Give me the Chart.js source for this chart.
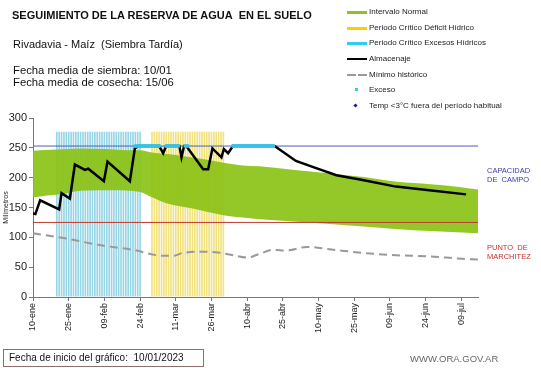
<!DOCTYPE html>
<html>
<head>
<meta charset="utf-8">
<script src="https://cdn.jsdelivr.net/npm/chart.js@4"></script>
<style>
  body { margin: 0; background: #fff; font-family: "Liberation Sans", Arial, sans-serif; }
  #wrap { position: relative; width: 541px; height: 368px; overflow: hidden; }
  canvas { position: absolute; left: 0; top: 0; }
  .t { position: absolute; white-space: nowrap; color: #111; }
  .leg { position: absolute; left: 347px; font-size: 8px; color: #222; }
  .leg div { position: relative; height: 15.7px; line-height: 8px; padding-left: 22px; }
  .sw { position: absolute; left: 0; }
</style>
</head>
<body>
<div id="wrap">
  <canvas id="grafico" width="541" height="368"></canvas>

  <div class="t" style="left:12px;top:9px;font-size:11px;font-weight:bold;">SEGUIMIENTO DE LA RESERVA DE AGUA&nbsp; EN EL SUELO</div>
  <div class="t" style="left:13px;top:38px;font-size:11px;">Rivadavia - Maíz&nbsp; (Siembra Tardía)</div>
  <div class="t" style="left:13px;top:64px;font-size:11.3px;line-height:12px;">Fecha media de siembra: 10/01<br>Fecha media de cosecha: 15/06</div>

  <div class="leg" style="top:8px;">
    <div><span class="sw" style="top:3px;width:20px;height:3px;background:#8dc21f;"></span>Intervalo Normal</div>
    <div><span class="sw" style="top:3px;width:20px;height:3px;background:#ffcc00;"></span>Periodo Crítico Déficit Hídrico</div>
    <div><span class="sw" style="top:3px;width:20px;height:3px;background:#33ccee;"></span>Periodo Crítico Excesos Hídricos</div>
    <div><span class="sw" style="top:3px;width:20px;height:2px;background:#000;"></span>Almacenaje</div>
    <div><span class="sw" style="top:3px;width:9px;height:2px;background:#999;"></span><span class="sw" style="left:11px;top:3px;width:9px;height:2px;background:#999;"></span>Mínimo histórico</div>
    <div><span class="sw" style="left:8px;top:2px;width:3px;height:3px;background:#33ccee;"></span>Exceso</div>
    <div><span class="sw" style="left:7px;top:2px;width:3px;height:3px;background:#1a1a8c;transform:rotate(45deg);"></span>Temp &lt;3°C fuera del período habitual</div>
  </div>

  <div class="t" style="left:487px;top:166px;font-size:7.5px;line-height:9px;color:#3b3bb0;">CAPACIDAD<br>DE&nbsp; CAMPO</div>
  <div class="t" style="left:487px;top:243px;font-size:7.5px;line-height:9px;color:#c83232;">PUNTO&nbsp; DE<br>MARCHITEZ</div>

  <div class="t" style="left:3px;top:349px;border:1px solid #8b7070;font-size:10px;line-height:16px;padding-left:5px;box-sizing:border-box;width:201px;height:18px;">Fecha de inicio del gráfico:&nbsp; 10/01/2023</div>
  <div class="t" style="left:410px;top:353px;font-size:9.5px;color:#666;">WWW.ORA.GOV.AR</div>
</div>

<script>
// ejes
const etiquetasX = ['10-ene', '25-ene', '09-feb', '24-feb', '11-mar', '26-mar', '10-abr', '25-abr', '10-may', '25-may', '09-jun', '24-jun', '09-jul'];
const diasTicks = [0, 15, 30, 45, 60, 75, 90, 105, 120, 135, 150, 165, 180];
const diaFinal = 187;

// niveles de referencia (mm)
const capacidadCampo = 253;
const puntoMarchitez = 125;
const alturaPeriodo = 277;

// almacenaje (dias desde 10-ene, mm)
const almDias = [0, 1, 3, 11, 12, 15.5, 17.6, 21.8, 23.2, 29.8, 31.3, 40.7, 42.8, 44, 53, 54.7, 56, 61.5, 62.4, 63.5, 64.4, 71.5, 73.6, 75.4, 79.2, 80.2, 82, 84, 101.5, 110.5, 117.5, 127.5, 138.5, 152.5, 166.5, 182];
const almValores = [140, 139, 162, 147, 174, 165, 222, 213, 215, 194, 227, 194, 249, 253, 253, 241, 253, 253, 234, 253, 253, 214, 214, 249, 234, 248, 241, 253, 253, 228, 218, 204, 196, 185, 179, 172];

// intervalo normal
const supDias = [0, 10, 20, 30, 40, 45, 50, 60, 70, 80, 87, 95, 110, 125, 139, 153, 167, 180, 187];
const supValores = [245, 247, 249, 248, 246, 246, 242, 238, 232, 225, 221, 219, 213, 207, 201, 193, 189, 184, 180];
const infDias = [0, 6, 13, 20, 34, 45, 50, 56, 66, 80, 91, 100, 116, 139, 160, 187];
const infValores = [167, 170, 173, 178, 179, 176, 167, 157, 149, 137, 132, 129, 125, 118, 112, 107];

// minimo historico
const minDias = [0, 14, 28, 42, 55, 59, 63, 73, 78.5, 84, 90, 95, 101, 106.5, 115, 124.6, 138.5, 152.6, 166.6, 180.5, 187];
const minValores = [107, 98, 87, 79, 69, 69, 74, 76, 74, 70, 66, 72, 79, 78, 84, 80, 74, 70, 68, 64, 63];

// dias con exceso
const excesoDias = [43, 44, 45, 46, 47, 48, 49, 50, 51, 52, 53, 56, 57, 58, 59, 60, 61, 64, 65, 84, 85, 86, 87, 88, 89, 90, 91, 92, 93, 94, 95, 96, 97, 98, 99, 100, 101];

// periodos criticos
const diasExcesosHidricos = [10, 11, 12, 13, 14, 15, 16, 17, 18, 19, 20, 21, 22, 23, 24, 25, 26, 27, 28, 29, 30, 31, 32, 33, 34, 35, 36, 37, 38, 39, 40, 41, 42, 43, 44, 45];
const diasDeficitHidrico = [50, 51, 52, 53, 54, 55, 56, 57, 58, 59, 60, 61, 62, 63, 64, 65, 66, 67, 68, 69, 70, 71, 72, 73, 74, 75, 76, 77, 78, 79, 80];

const pares = (xs, ys) => xs.map((x, i) => ({ x: x, y: ys[i] }));
const fuente = 'Liberation Sans';

new Chart(document.getElementById('grafico'), {
    data: {
        datasets: [
            {
                type: 'line',
                label: 'Exceso',
                data: excesoDias.map(d => ({ x: d, y: capacidadCampo })),
                showLine: false,
                pointRadius: 2,
                pointBackgroundColor: '#33c3ec',
                pointBorderWidth: 0,
                order: 0
            },
            {
                type: 'line',
                label: 'Almacenaje',
                data: pares(almDias, almValores),
                borderColor: '#000',
                borderWidth: 2.5,
                pointRadius: 0,
                tension: 0,
                order: 1
            },
            {
                type: 'line',
                label: 'Capacidad de campo',
                data: [{ x: 0, y: capacidadCampo }, { x: diaFinal, y: capacidadCampo }],
                borderColor: '#4a5fc0',
                borderWidth: 1,
                pointRadius: 0,
                order: 2
            },
            {
                type: 'line',
                label: 'Punto de marchitez',
                data: [{ x: 0, y: puntoMarchitez }, { x: diaFinal, y: puntoMarchitez }],
                borderColor: '#c0392b',
                borderWidth: 1,
                pointRadius: 0,
                order: 3
            },
            {
                type: 'line',
                label: 'Mínimo histórico',
                data: pares(minDias, minValores),
                borderColor: '#999',
                borderWidth: 2,
                borderDash: [8, 5],
                pointRadius: 0,
                cubicInterpolationMode: 'monotone',
                order: 4
            },
            {
                type: 'line',
                label: 'Intervalo Normal',
                data: pares(supDias, supValores),
                borderColor: 'rgba(139,194,22,0.92)',
                borderWidth: 0,
                backgroundColor: 'rgba(139,194,22,0.92)',
                fill: '+1',
                pointRadius: 0,
                cubicInterpolationMode: 'monotone',
                order: 5
            },
            {
                type: 'line',
                label: 'Intervalo inferior',
                data: pares(infDias, infValores),
                borderColor: 'rgba(139,194,22,0.92)',
                borderWidth: 0,
                pointRadius: 0,
                cubicInterpolationMode: 'monotone',
                order: 6
            },
            {
                type: 'bar',
                label: 'Periodo Crítico Excesos Hídricos',
                data: diasExcesosHidricos.map(d => ({ x: d, y: alturaPeriodo })),
                backgroundColor: '#98d6e6',
                barPercentage: 0.7,
                categoryPercentage: 1,
                stack: 'periodos',
                order: 7
            },
            {
                type: 'bar',
                label: 'Periodo Crítico Déficit Hídrico',
                data: diasDeficitHidrico.map(d => ({ x: d, y: alturaPeriodo })),
                backgroundColor: '#f2e27e',
                barPercentage: 0.7,
                categoryPercentage: 1,
                stack: 'periodos',
                order: 7
            }
        ]
    },
    options: {
        responsive: false,
        animation: false,
        devicePixelRatio: 1,
        layout: { padding: { top: 118, right: 63, bottom: 0, left: 0 } },
        plugins: { legend: { display: false }, tooltip: { enabled: false } },
        scales: {
            x: {
                type: 'linear',
                min: 0,
                max: diaFinal,
                offset: false,
                afterBuildTicks: s => { s.ticks = diasTicks.map(v => ({ value: v })); },
                afterFit: s => { s.height = 71; },
                grid: { drawOnChartArea: false, offset: false, tickLength: 4, color: '#777' },
                border: { color: '#777' },
                ticks: {
                    autoSkip: false,
                    minRotation: 90,
                    maxRotation: 90,
                    padding: 2,
                    color: '#222',
                    font: { family: fuente, size: 9 },
                    callback: (v, i) => etiquetasX[i]
                }
            },
            y: {
                min: 0,
                max: 300,
                afterFit: s => { s.width = 33; },
                grid: { drawOnChartArea: false, tickLength: 4, color: '#777' },
                border: { color: '#777' },
                title: { display: true, text: 'Milímetros', color: '#222', padding: 2, font: { family: fuente, size: 7 } },
                ticks: { stepSize: 50, padding: 2, color: '#222', font: { family: fuente, size: 11 } }
            }
        }
    }
});
</script>
</body>
</html>
